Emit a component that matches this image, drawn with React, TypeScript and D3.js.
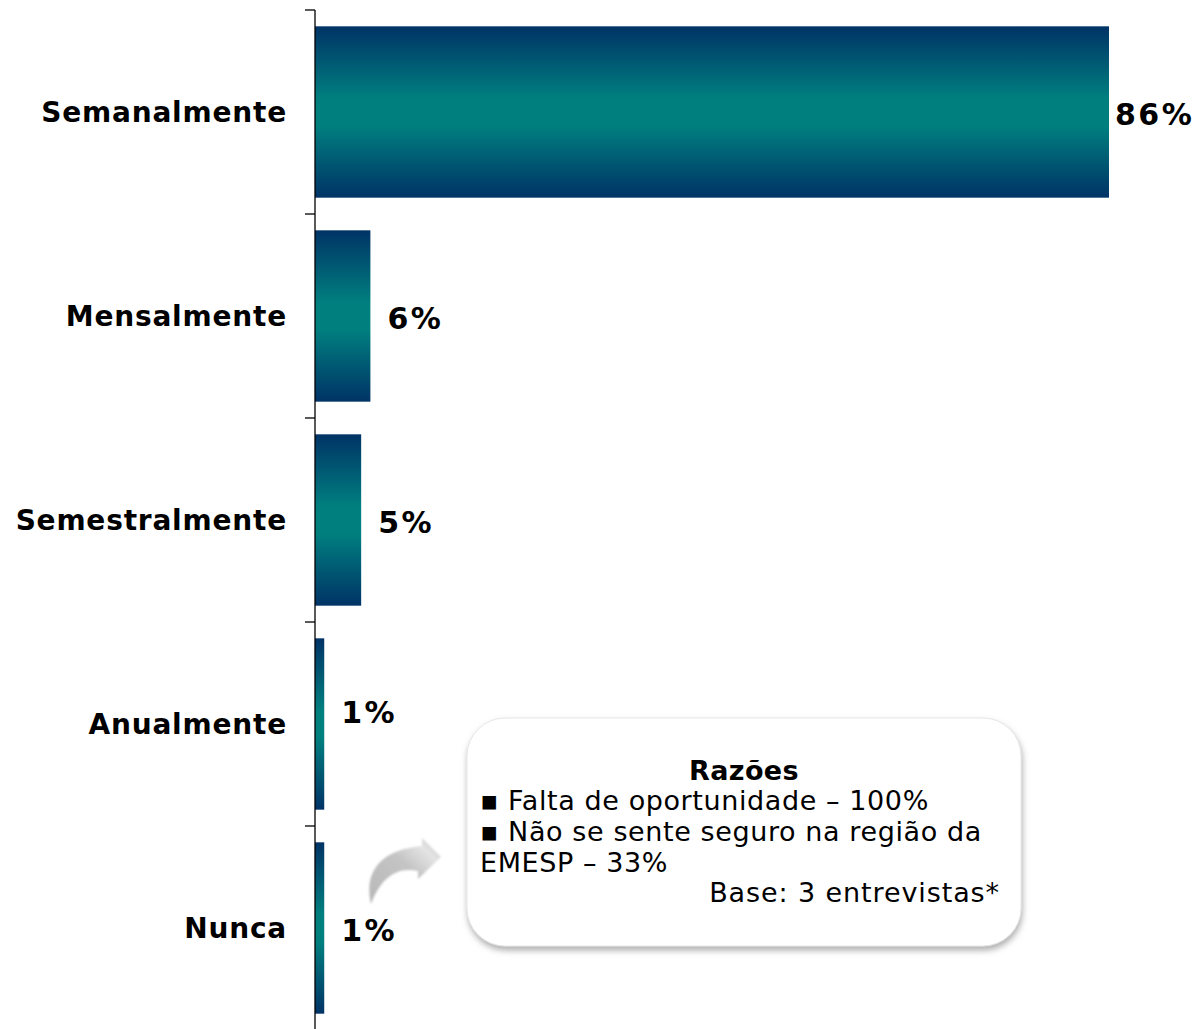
import React from "react";
import * as d3 from "d3";

const categories = ["Semanalmente", "Mensalmente", "Semestralmente", "Anualmente", "Nunca"];
const values = [86, 6, 5, 1, 1];
const valueLabels = ["86%", "6%", "5%", "1%", "1%"];
const calloutTitle = "Razões";
const calloutLines = ["▪ Falta de oportunidade – 100%", "▪ Não se sente seguro na região da", "EMESP – 33%"];
const calloutBase = "Base: 3 entrevistas*";

const W = 1199;
const H = 1029;
const axisX = 315;

export default function App() {
  const x = d3.scaleLinear().domain([0, 86]).range([axisX, 1109]);
  const y = d3.scaleBand<string>().domain(categories).range([10, 1030]).paddingInner(0.16).paddingOuter(0.08);
  const step = y.step();
  const tickYs = categories.map((c) => (y(c) as number) - (step - y.bandwidth()) / 2);
  const labelNudge = (i: number) => (i === 3 ? -12 : 2);

  const box = { x: 467, y: 718, w: 554, h: 228 };

  return (
    <svg width={W} height={H} style={{ position: "absolute", left: 0, top: 0, background: "#fff" }}>
      <defs>
        <linearGradient id="barGrad" x1="0" y1="0" x2="0" y2="1">
          <stop offset="0" stopColor="#003366" />
          <stop offset="0.42" stopColor="#007f7f" />
          <stop offset="0.58" stopColor="#007f7f" />
          <stop offset="1" stopColor="#003366" />
        </linearGradient>
        <linearGradient id="arrowGrad" x1="0" y1="1" x2="1" y2="0">
          <stop offset="0" stopColor="#b8b8b8" />
          <stop offset="0.55" stopColor="#c4c4c4" />
          <stop offset="0.8" stopColor="#e4e4e4" />
          <stop offset="1" stopColor="#c0c0c0" />
        </linearGradient>
        <filter id="shadow" x="-10%" y="-10%" width="120%" height="130%">
          <feDropShadow dx="1" dy="4" stdDeviation="3" floodColor="#7a7a7a" floodOpacity="0.6" />
        </filter>
        <filter id="blur1">
          <feGaussianBlur stdDeviation="0.8" />
        </filter>
      </defs>

      {categories.map((c, i) => (
        <rect
          key={c}
          x={x(0)}
          y={y(c)}
          width={x(values[i]) - x(0)}
          height={y.bandwidth()}
          fill="url(#barGrad)"
        />
      ))}

      <line x1={axisX} x2={axisX} y1={10} y2={H} stroke="#000" strokeWidth={1.3} />
      {tickYs.map((t, i) => (
        <line key={i} x1={axisX - 10} x2={axisX} y1={t} y2={t} stroke="#000" strokeWidth={1.3} />
      ))}

      {categories.map((c) => (
        <text
          key={c}
          x={287}
          y={(y(c) as number) + y.bandwidth() / 2}
          dy="0.35em"
          textAnchor="end"
          fontFamily="DejaVu Sans"
          fontWeight="bold"
          fontSize={28}
          letterSpacing={0.8}
          fill="#000"
        >
          {c}
        </text>
      ))}

      {categories.map((c, i) => (
        <text
          key={c + "v"}
          x={Math.min(x(values[i]) + 17, 1115)}
          y={(y(c) as number) + y.bandwidth() / 2 + labelNudge(i)}
          dy="0.35em"
          textAnchor="start"
          fontFamily="DejaVu Sans"
          fontWeight="bold"
          fontSize={30}
          letterSpacing={2.5}
          fill="#000"
        >
          {valueLabels[i]}
        </text>
      ))}

      <path
        d="M371,904 C364,874 378,850 422,846 L422,838 L441,857 L418,879 L418,871 C395,866 380,880 371,904 Z"
        fill="url(#arrowGrad)"
        filter="url(#blur1)"
      />

      <rect
        x={box.x}
        y={box.y}
        width={box.w}
        height={box.h}
        rx={38}
        ry={38}
        fill="#fff"
        stroke="#e6e6e6"
        strokeWidth={1}
        filter="url(#shadow)"
      />
      <text x={744} y={771} dy="0.35em" textAnchor="middle" fontFamily="DejaVu Sans" fontWeight="bold" fontSize={27} letterSpacing={0.4} fill="#000">
        {calloutTitle}
      </text>
      {calloutLines.map((l, i) => (
        <text key={i} x={480} y={801 + i * 31} dy="0.35em" fontFamily="DejaVu Sans" fontSize={27} letterSpacing={0.6} fill="#000">
          {l}
        </text>
      ))}
      <text x={1000} y={893} dy="0.35em" textAnchor="end" fontFamily="DejaVu Sans" fontSize={27} letterSpacing={0.9} fill="#000">
        {calloutBase}
      </text>
    </svg>
  );
}
